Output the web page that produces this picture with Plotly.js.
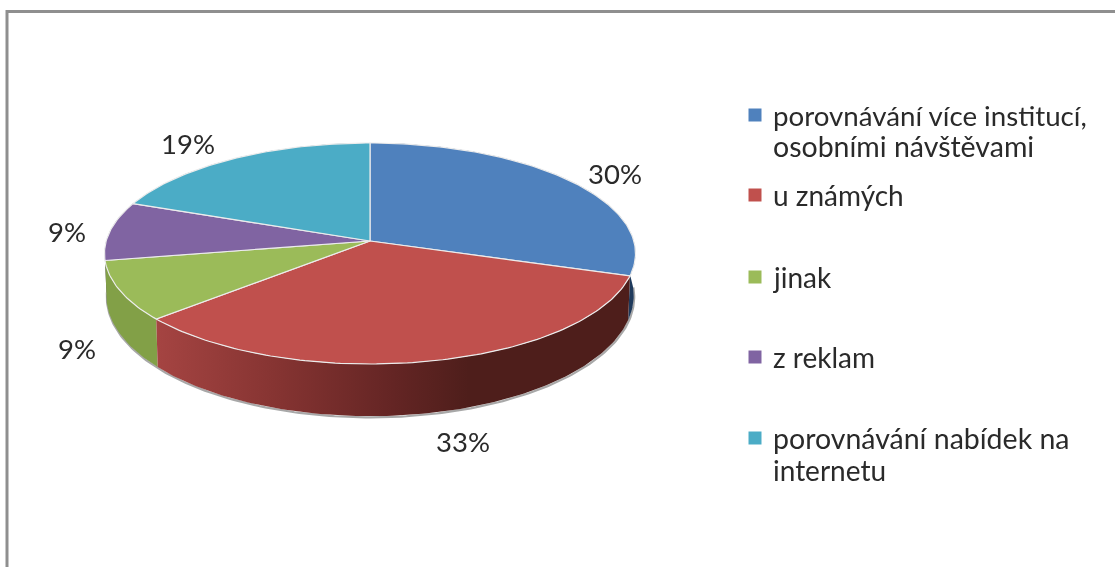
<!DOCTYPE html>
<html><head><meta charset="utf-8">
<script src="https://cdn.plot.ly/plotly-3.0.1.min.js"></script>
<style>html,body{margin:0;padding:0;background:#fff;overflow:hidden}#c{width:1115px;height:567px;filter:blur(0.5px)}</style>
</head><body><div id="c"></div>
<script>
// ---- data ----
const categories = ["porovnávání více institucí,<br>osobními návštěvami","u známých","jinak","z reklam","porovnávání nabídek na<br>internetu"];
const shares = [30, 33.49, 8.71, 8.6, 19.2];
const faceColors = ["#4f81bd","#c0504d","#9bbb59","#8064a2","#4bacc6"];
const sideColors = ["#1f3a5c","#4e1e1b","#82a047","#5f4a7a","#35809a"];

// ---- drawing geometry (pixel-scaled axes) ----
const W=1115,H=567,cx=370,persp=0.113;
const topRim={y0:241,a:109.1,b:263.8}, lowRim={y0:282,a:119,b:262};
const labelPos=[[615,173],[463,441],[77,348],[67,231],[188,143]];
const swatchX=755,textX=771,rowY=[[115,146],[195],[277],[357],[438,470]];
const lineSizes=[[27.7,28.5],[28],[28],[28],[28.5,28]];
const fontFam='Lato, Carlito, "Open Sans", sans-serif';

function pt(r,deg){const t=deg*Math.PI/180,s=Math.sin(t),c=Math.cos(t),d=1+persp*c;
  return [cx+r.b*s/d, r.y0-r.a*c/d];}
function arc(r,a,b){const n=Math.max(2,Math.ceil(Math.abs(b-a))),o=[];
  for(let i=0;i<=n;i++)o.push(pt(r,a+(b-a)*i/n));return o;}

let acc=0;const spans=shares.map(v=>{const a=acc*3.6;acc+=v;return [a,acc*3.6];});
const traces=[];
function poly(pts,extra){traces.push(Object.assign({type:'scatter',mode:'lines',
  x:pts.map(p=>p[0]),y:pts.map(p=>p[1]),fill:'toself',hoverinfo:'skip',showlegend:false},extra));}

// soft shadow under the lower rim
const sh=arc(lowRim,92,268);
traces.push({type:'scatter',mode:'lines',x:sh.map(p=>p[0]+0.5),y:sh.map(p=>p[1]+1.2),
  line:{color:'#a8a8a8',width:2.2},hoverinfo:'skip',showlegend:false});

// side walls, back to front
[4,3,0,2,1].forEach(i=>{
  const [a,b]=spans[i];
  const pts=arc(topRim,a,b).concat(arc(lowRim,b,a));pts.push(pts[0]);
  const extra={line:{width:0,color:'rgba(0,0,0,0)'},fillcolor:sideColors[i]};
  if(i===1){extra.fillgradient={type:'horizontal',colorscale:[[0,'#a54442'],[0.25,'#863432'],[0.5,'#642524'],[0.66,'#4e1e1b'],[1,'#4e1e1b']]};}
  poly(pts,extra);
});
// top faces
spans.forEach(([a,b],i)=>{
  const pts=[[cx,topRim.y0]].concat(arc(topRim,a,b));
  pts.push([cx,topRim.y0]);
  poly(pts,{fillcolor:faceColors[i],line:{color:'#ececec',width:1.2}});
});
// legend swatches
traces.push({type:'scatter',mode:'markers',x:rowY.map(()=>swatchX),y:rowY.map(r=>r[0]),
  marker:{symbol:'square',size:13,color:faceColors},hoverinfo:'skip',showlegend:false});

const annotations=[];
shares.forEach((v,i)=>annotations.push({x:labelPos[i][0],y:labelPos[i][1],xref:'x',yref:'y',
  text:Math.round(v)+'%',showarrow:false,xanchor:'center',yanchor:'middle',
  font:{family:fontFam,size:27.5,color:'#2a2a2a'}}));
categories.forEach((c,i)=>c.split('<br>').forEach((ln,j)=>annotations.push({x:textX,y:rowY[i][j],xref:'x',yref:'y',
  text:ln,showarrow:false,xanchor:'left',yanchor:'middle',
  font:{family:fontFam,size:lineSizes[i][j],color:'#2a2a2a'}})));

Plotly.newPlot('c',traces,{
  width:W,height:H,margin:{l:0,r:0,t:0,b:0},paper_bgcolor:'#fff',plot_bgcolor:'#fff',showlegend:false,
  xaxis:{range:[0,W],visible:false,fixedrange:true},
  yaxis:{range:[H,0],visible:false,fixedrange:true},
  annotations,
  shapes:[{type:'path',path:`M7,${H+5} L7,11.5 L${W+5},11.5`,xref:'x',yref:'y',line:{color:'#8f8f8f',width:3}}]
},{staticPlot:true});
</script></body></html>
